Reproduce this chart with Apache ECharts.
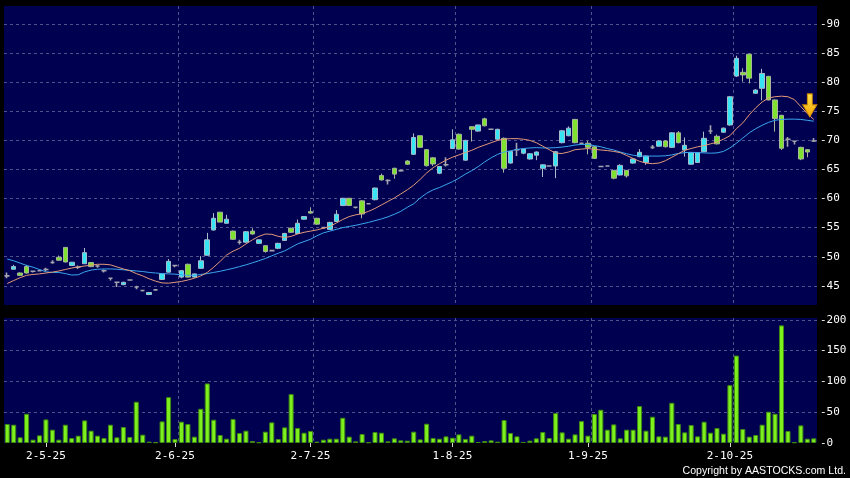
<!DOCTYPE html>
<html><head><meta charset="utf-8">
<script src="https://cdn.jsdelivr.net/npm/echarts@6/dist/echarts.min.js"></script>
<style>html,body{margin:0;padding:0;background:#000;}#c{width:850px;height:478px;}</style>
</head><body><div id="c"></div>
<script>
// trading days per month (day-month-year)
const tradingDays = [
  ['4','25',[23,24,25,28,29,30]],
  ['5','25',[2,6,7,8,9,12,13,14,15,16,19,20,21,22,23,26,27,28,29,30]],
  ['6','25',[2,3,4,5,6,9,10,11,12,13,16,17,18,19,20,23,24,25,26,27,30]],
  ['7','25',[2,3,4,7,8,9,10,11,14,15,16,17,18,21,22,23,24,25,28,29,30,31]],
  ['8','25',[1,4,5,6,7,8,11,12,13,14,15,18,19,20,21,22,25,26,27,28,29]],
  ['9','25',[1,2,3,4,5,8,9,10,11,12,15,16,17,18,19,22,23,24,25,26,29,30]],
  ['10','25',[2,3,6,8,9,10,13,14,15,16,17,20,21,22]]
];
const tickLabels = ['2-5-25','2-6-25','2-7-25','1-8-25','1-9-25','2-10-25'];
const priceTicks = [45,50,55,60,65,70,75,80,85,90];
const volumeTicks = [0,50,100,150,200];

// [open, close, low, high]
const ohlc = [
[46.7,46.7,46.3,47.3],[47.85,48.3,47.8,48.6],[47.2,46.8,46.7,47.3],[48.3,47.2,47.1,48.6],[47.5,47.5,47.3,47.6],
[47.6,47.6,47.5,47.8],[47.8,47.8,47.5,48.1],[49.0,49.0,48.8,49.4],[49.9,49.4,49.3,50.2],[51.6,49.1,49.0,51.6],
[48.5,49.05,48.4,49.1],[48.2,48.2,47.9,48.5],[48.8,50.7,48.8,51.5],[49.0,48.3,48.2,49.1],[48.4,48.4,48.1,48.6],
[47.6,47.6,47.3,47.8],[46.3,46.3,45.9,46.4],[45.6,45.6,44.8,45.7],[45.2,45.6,45.1,45.7],[46.0,46.0,45.9,46.1],
[44.8,44.8,44.4,45.0],[44.2,44.2,44.0,44.3],[43.5,43.85,43.4,43.9],[44.3,44.3,44.2,44.4],[46.1,47.05,46.0,47.2],
[47.35,49.2,47.3,49.6],[48.5,48.5,48.2,48.6],[46.5,47.6,46.3,47.7],[48.7,46.5,46.4,48.8],[46.5,47.05,46.4,47.1],
[48.0,49.3,48.0,50.1],[50.25,52.9,50.2,54.1],[54.6,56.6,54.5,57.5],[57.65,55.95,55.9,57.7],[55.75,56.45,55.7,57.2],
[54.4,53.0,52.9,54.5],[52.5,52.5,52.1,52.9],[52.5,54.3,52.4,54.4],[54.4,53.9,53.8,54.9],[52.3,52.9,52.2,53.0],
[51.9,50.9,50.7,52.0],[51.05,51.05,50.9,51.2],[51.45,52.3,51.3,52.4],[52.8,54.0,52.7,54.1],[54.9,54.2,54.1,55.0],
[54.0,55.75,53.9,56.4],[56.45,56.9,56.4,57.0],[57.75,57.5,57.4,58.5],[56.6,55.6,55.5,56.7],[55.0,55.0,54.8,55.1],
[54.7,55.9,54.6,56.0],[56.05,57.3,56.0,58.0],[58.8,60.05,58.7,60.1],[60.05,58.8,58.7,60.1],[58.5,58.5,58.3,58.6],
[59.6,57.35,56.6,59.7],[59.1,59.1,59.0,59.2],[59.8,61.8,59.7,61.9],[63.95,63.2,63.1,64.3],[63.1,63.1,62.4,63.3],
[65.2,64.2,63.4,65.3],[64.8,64.8,64.6,65.0],[66.45,65.9,65.8,66.6],[67.6,70.5,67.5,71.2],[70.8,68.8,68.7,70.9],
[68.4,65.65,65.5,68.5],[67.0,65.95,65.6,67.1],[64.35,65.5,64.2,65.6],[65.8,65.8,65.5,67.1],[68.6,70.1,68.5,71.9],
[71.05,68.5,68.4,71.2],[66.6,70.0,66.5,70.1],[72.35,71.9,69.8,72.4],[71.6,72.65,71.5,72.7],[73.7,72.5,72.4,73.9],
[71.9,71.9,71.8,72.0],[70.2,71.9,70.1,72.0],[70.35,65.2,64.45,70.5],[66.1,68.1,66.0,68.2],[68.4,68.4,67.3,69.6],
[67.8,68.5,67.6,68.6],[66.8,67.7,66.7,67.8],[67.45,68.0,66.6,68.1],[65.2,65.8,63.7,65.9],[65.6,65.6,65.5,65.7],
[65.6,68.05,63.5,68.2],[69.6,71.65,69.5,71.8],[70.8,72.1,70.7,72.4],[73.6,69.6,69.5,73.7],[69.5,69.5,69.3,69.6],
[69.5,68.8,67.6,69.9],[68.9,66.9,66.8,69.0],[65.5,65.5,65.4,65.6],[65.6,65.6,65.5,65.7],[64.85,63.5,63.3,64.9],
[64.05,65.7,64.0,65.9],[64.85,63.9,63.6,64.9],[66.1,66.8,66.0,66.9],[67.2,67.95,67.1,68.5],[66.2,67.3,65.8,67.4],
[68.8,68.8,68.5,69.2],[69.0,69.9,68.9,70.0],[69.9,68.9,68.8,70.0],[68.8,71.3,68.7,71.4],[71.3,69.6,69.5,71.6],
[68.35,69.15,67.2,70.5],[65.9,67.9,65.8,68.0],[66.2,67.9,66.1,68.0],[68.05,70.35,68.0,71.5],[71.6,71.6,71.1,72.6],
[70.7,69.4,69.3,71.0],[71.4,72.1,71.3,72.2],[72.65,77.5,72.5,77.6],[81.05,84.1,80.9,84.55],[81.7,81.25,80.1,82.4],
[84.8,80.7,79.8,84.9],[78.1,78.65,78.0,78.8],[78.95,81.5,76.9,82.3],[81.0,76.95,76.9,81.1],[76.95,73.75,71.5,77.0],
[74.3,68.65,68.35,74.4],[70.2,70.2,68.9,70.6],[69.85,69.85,69.3,69.9],[68.8,66.8,66.6,68.9],[68.4,68.0,67.1,68.5],
[69.9,69.9,69.7,70.4]
];

const volumes = [
30.8,29.7,9.2,47.5,5.4,12.4,38.3,21.6,5.4,29.7, 8.1,11.9,36.7,20,11.9,8.1,29.7,9.2,25.9,9.7,
67,13.5,2.2,1.1,35.1,74.5,6.5,34.6,30.8,10.3, 55.6,96.7,37.8,13,7,38.9,16.2,20,3.2,1.1,
18.4,33.5,6.5,25.4,79.4,24.3,16.7,19.4,2.2,5.4, 7,7,41,10.3,2.7,14.6,1.1,17.8,16.7,2.7,
7.6,4.3,3.8,18.4,5.9,31.3,8.1,7,10.8,8.6, 14,6.5,11.9,1.6,3.2,4.3,2.2,37.3,16.2,10.8,
1.6,3.8,7.6,17.8,8.1,48.6,17.3,7,14,35.6, 11.9,47,54,21.6,30.2,7.6,21.6,21.6,60,20,
42.7,10.8,10.3,65.3,30.8,17.3,29.2,10.8,34.6,16.7, 24.3,15.1,94,142,22.7,10.3,13,29.7,50.8,47.5,
191,19.4,1.1,28.6,7,7.6
];

// moving averages
const maShort = [
45.4,45.9,46.4,46.8,46.95,47.05,47.2,47.35,47.55,47.8, 48.05,48.25,48.4,48.55,48.7,48.7,48.6,48.25,47.9,47.6,
47.1,46.7,46.2,45.8,45.5,45.45,45.6,45.75,46.0,46.3, 46.7,47.3,48.2,49.2,50.3,50.95,51.45,52.2,52.9,53.5,
53.9,53.85,53.5,53.3,53.5,53.9,54.2,54.4,54.6,54.9, 55.2,55.8,56.4,56.9,57.2,57.4,57.8,58.3,58.9,59.5,
60.1,60.8,61.5,62.3,63.3,64.4,65.3,66.0,66.6,67.1, 67.5,67.9,68.3,68.8,69.2,69.6,70.0,70.2,70.3,70.3,
70.2,70.0,69.6,69.0,68.4,67.8,67.75,68.0,68.4,68.5, 68.6,68.45,68.35,68.25,68.1,67.9,67.4,66.9,66.4,66.1,
66.0,66.1,66.5,67.1,67.7,68.3,68.6,68.9,69.1,69.4, 69.7,70.2,70.8,72.0,73.0,74.4,75.6,76.6,77.3,77.5,
77.6,77.5,77.0,75.8,74.6,73.6
];
const maLong = [
49.6,49.3,48.9,48.5,48.2,47.8,47.4,47.3,47.3,47.1, 46.85,46.9,47.4,47.7,47.85,47.9,47.9,47.85,47.75,47.65,
47.55,47.45,47.3,47.2,47.1,47.05,47.0,46.9,46.8,46.8, 46.95,47.1,47.3,47.5,47.75,48.0,48.3,48.6,48.95,49.3,
49.7,50.15,50.6,51.0,51.6,52.2,52.6,53.0,53.6,54.1, 54.4,54.7,55.0,55.2,55.4,55.65,55.9,56.2,56.5,56.85,
57.3,57.8,58.5,59.1,60.1,60.9,61.5,61.9,62.4,62.9, 63.5,64.2,64.8,65.5,66.3,67.0,67.6,68.0,68.2,68.45,
68.6,68.7,68.75,68.7,68.7,68.75,68.85,69.0,69.2,69.3, 69.3,69.1,68.9,68.6,68.35,68.0,67.7,67.45,67.3,67.3,
67.3,67.3,67.35,67.5,67.75,67.9,67.95,67.9,67.85,67.8, 67.85,68.1,68.7,69.5,70.4,71.3,72.0,72.6,73.1,73.45,
73.6,73.65,73.65,73.6,73.45,73.3
];

const categories = [];
tradingDays.forEach(([m, y, days]) => days.forEach(d => categories.push(d + '-' + m + '-' + y)));
const tickSet = new Set(tickLabels);

const UP = '#36e4f4', DOWN = '#7fe22f', DOJI = '#a4a4ac';
const candleData = ohlc.map(v => v[0] === v[1]
  ? { value: v, itemStyle: { color: DOJI, color0: DOJI, borderColor: DOJI, borderColor0: DOJI,
      borderColorDoji: DOJI, borderWidth: 1.6 } }
  : v);

const gridLine = { lineStyle: { color: '#51518c', width: 1, type: [3, 3] } };
const monoFont = 'DejaVu Sans Mono';

function xAxis(gridIndex, showLabels) {
  return {
    type: 'category', gridIndex, data: categories, boundaryGap: true,
    axisLine: { show: false },
    axisTick: { show: showLabels, alignWithLabel: true, length: 4,
      interval: (i, v) => tickSet.has(v), lineStyle: { color: '#d8d8d8' } },
    axisLabel: { show: showLabels, interval: (i, v) => tickSet.has(v), color: '#ffffff',
      fontFamily: monoFont, fontSize: 11, margin: 8 },
    splitLine: Object.assign({ show: true, showMinLine: false, showMaxLine: false,
      interval: (i) => i > 0 && tickSet.has(categories[i - 1]) }, gridLine)
  };
}
function yAxis(gridIndex, min, max, splitNumber, ticks, showMin) {
  return {
    type: 'value', gridIndex, position: 'right', min, max, splitNumber,
    axisLine: { show: false }, axisTick: { show: false },
    axisLabel: { color: '#ffffff', fontFamily: monoFont, fontSize: 11, margin: 3,
      showMinLabel: showMin, showMaxLabel: false,
      formatter: v => ticks.indexOf(v) >= 0 ? '-' + v : '' },
    splitLine: Object.assign({ show: true, showMinLine: false, showMaxLine: false }, gridLine)
  };
}

const chart = echarts.init(document.getElementById('c'), null, { renderer: 'canvas' });
const last = categories.length - 1;
chart.setOption({
  animation: false,
  backgroundColor: '#000000',
  grid: [
    { left: 4, right: 33, top: 6, height: 299, show: true, backgroundColor: '#000050', borderWidth: 0 },
    { left: 4, right: 33, top: 318, height: 125, show: true, backgroundColor: '#000050', borderWidth: 0 }
  ],
  xAxis: [xAxis(0, false), xAxis(1, true)],
  yAxis: [yAxis(0, 41.7, 93.1, 10, priceTicks, false), yAxis(1, 0, 203, 4, volumeTicks, true)],
  series: [
    { type: 'candlestick', xAxisIndex: 0, yAxisIndex: 0, data: candleData, barWidth: '78%',
      itemStyle: { color: UP, color0: DOWN, borderColor: '#a6bccb', borderColor0: '#a8b49c',
        borderColorDoji: DOJI, borderWidth: 1 } },
    { type: 'line', xAxisIndex: 0, yAxisIndex: 0, data: maLong, symbol: 'none', silent: true,
      lineStyle: { color: '#3aa6ee', width: 1 } },
    { type: 'line', xAxisIndex: 0, yAxisIndex: 0, data: maShort, symbol: 'none', silent: true,
      lineStyle: { color: '#e39a78', width: 1 },
      markPoint: { silent: true, label: { show: false },
        symbol: 'path://M4.5,0 L9.5,0 L9.5,11 L14,11 L7,23 L0,11 L4.5,11 Z',
        symbolSize: [14, 23], symbolOffset: [-4, -14],
        itemStyle: { color: { type: 'linear', x: 0, y: 0, x2: 0, y2: 1,
          colorStops: [{ offset: 0, color: '#ffe24a' }, { offset: 1, color: '#f4a400' }] },
          borderColor: '#d08a00', borderWidth: 1 },
        data: [{ coord: [categories[last], maShort[last]] }] } },
    { type: 'bar', xAxisIndex: 1, yAxisIndex: 1, data: volumes, barWidth: '78%',
      itemStyle: { color: '#7df01e', borderColor: '#3f8a12', borderWidth: 1 } }
  ],
  graphic: [
    { type: 'text', right: 4, bottom: 1, silent: true,
      style: { text: 'Copyright by AASTOCKS.com Ltd.', fill: '#ffffff',
        font: '10.6px "Liberation Sans", sans-serif' } }
  ]
});
</script>
</body></html>
